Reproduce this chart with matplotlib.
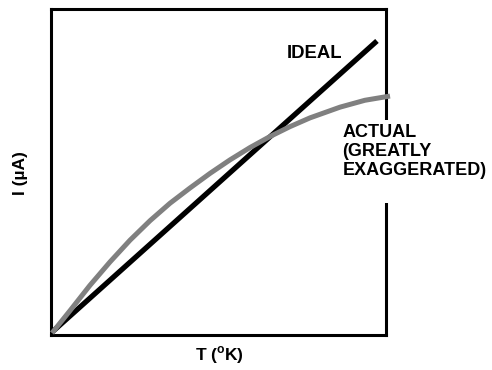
import matplotlib
matplotlib.use('Agg')
import matplotlib.pyplot as plt

plt.rcParams['font.family'] = ['Liberation Sans', 'DejaVu Sans']
plt.rcParams['mathtext.fontset'] = 'custom'
plt.rcParams['mathtext.rm'] = 'Liberation Sans:bold'
plt.rcParams['mathtext.bf'] = 'Liberation Sans:bold'

# ideal (straight) and actual (curved) response, normalized 0..100
ideal_t = [0.0, 97.3]
ideal_i = [0.6, 90.2]
actual_t = [0.3, 5.7, 11.6, 17.6, 23.6, 29.6, 35.5, 41.5, 47.5, 53.4, 59.4,
            65.4, 71.3, 77.3, 86.3, 93.7, 101.2]
actual_i = [0.6, 7.5, 15.2, 22.4, 29.1, 35.1, 40.4, 45.1, 49.6, 53.7, 57.5,
            60.9, 63.9, 66.6, 69.9, 72.0, 73.3]

fig = plt.figure(figsize=(4.92, 3.70), dpi=100)
ax = fig.add_axes([51/492, 1 - 335/370, 335/492, 326/370])
ax.set_xlim(0, 100)
ax.set_ylim(0, 100)
ax.set_xticks([])
ax.set_yticks([])
for sp in ax.spines.values():
    sp.set_linewidth(2.2)

ax.plot(ideal_t, ideal_i, color='black', lw=3.8, solid_capstyle='butt', zorder=3)
ax.plot(actual_t, actual_i, color='#808080', lw=3.6, solid_capstyle='butt',
        solid_joinstyle='round', clip_on=False, zorder=4)

ax.text(70.5, 86.5, 'IDEAL', fontsize=13.3, fontweight='bold', ha='left', va='center')
# trailing blank line widens the white box so the frame gap matches
ax.text(87.0, 64.8, 'ACTUAL\n(GREATLY\nEXAGGERATED)\n ', fontsize=13, fontweight='bold',
        ha='left', va='top', linespacing=1.18,
        bbox=dict(facecolor='white', edgecolor='none', pad=3), zorder=5,
        clip_on=False)

fig.text(20/492, 1 - 173/370, 'I (µA)', rotation=90, fontsize=12.5, fontweight='bold',
         ha='center', va='center')
fig.text(219/492, 1 - 355/370, r'T ($^{\mathrm{o}}$K)', fontsize=12.5, fontweight='bold',
         ha='center', va='center')

fig.savefig('out.png', dpi=100)
